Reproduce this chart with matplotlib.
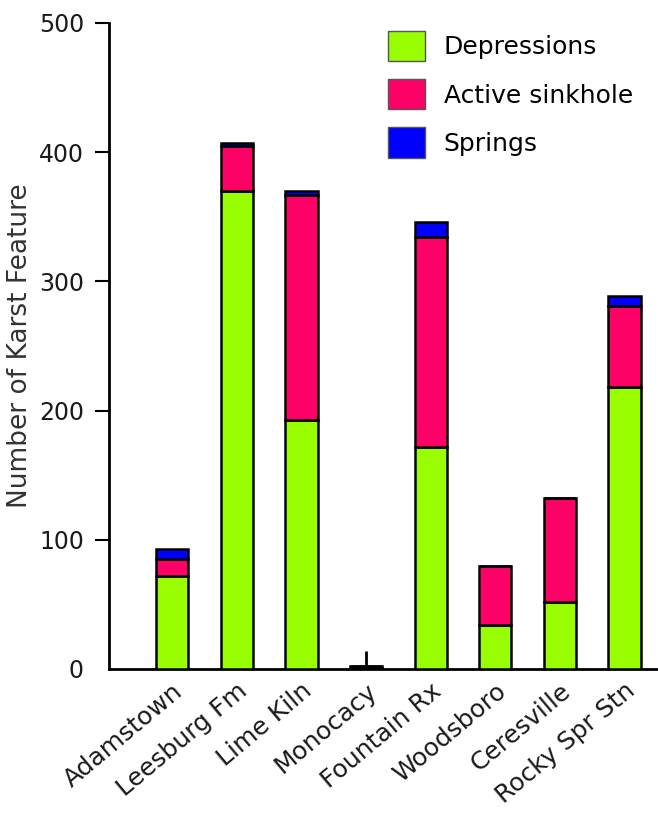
import matplotlib
matplotlib.use("Agg")
import matplotlib.pyplot as plt
import numpy as np
from matplotlib.patches import Patch

plt.rcParams['font.family'] = ['DejaVu Sans']

categories = ["Adamstown", "Leesburg Fm", "Lime Kiln", "Monocacy", "Fountain Rx",
              "Woodsboro", "Ceresville", "Rocky Spr Stn"]
depressions = [72, 370, 193, 1, 172, 34, 52, 218]
active_sinkhole = [13, 35, 174, 1, 162, 46, 80, 63]
springs = [8, 2, 3, 0, 12, 0, 0, 8]
monocacy_mark = 14
yticks = [0, 100, 200, 300, 400, 500]

fig = plt.figure(figsize=(6.58, 8.15), dpi=100)
ax = fig.add_axes([109/658, 1 - 669/815, 1 - 109/658, (669 - 23)/815])

x = np.arange(len(categories))
w = 0.5
kw = dict(width=w, edgecolor='black', linewidth=1.8, zorder=3)
ax.bar(x, depressions, color='#99FF00', **kw)
ax.bar(x, active_sinkhole, bottom=depressions, color='#FF0066', **kw)
bot2 = np.array(depressions) + np.array(active_sinkhole)
ax.bar(x, springs, bottom=bot2, color='#0000FF', **kw)
ax.vlines(categories.index("Monocacy"), 0, monocacy_mark, color='black', linewidth=2, zorder=4)

ax.set_xlim(-0.98, 7.52)
ax.set_ylim(0, 500)
ax.set_yticks(yticks)
ax.set_yticklabels([str(t) for t in yticks], fontsize=17, color='#1a1a1a')
ax.tick_params(axis='y', direction='out', length=10, width=1.5, pad=8)
ax.yaxis.get_major_ticks()[0].tick1line.set_visible(False)
ax.set_xticks(x)
ax.set_xticklabels(categories, rotation=40, ha='right', rotation_mode='anchor',
                   fontsize=18, color='#1a1a1a')
ax.tick_params(axis='x', length=0, pad=7)
for s in ['top', 'right']:
    ax.spines[s].set_visible(False)
ax.spines['left'].set_linewidth(2)
ax.spines['bottom'].set_linewidth(2)
ax.set_ylabel("Number of Karst Feature", fontsize=19, color='#333333')
ax.yaxis.set_label_coords(-0.138, 0.5)

handles = [Patch(facecolor='#99FF00', edgecolor='#555555'),
           Patch(facecolor='#FF0066', edgecolor='#555555'),
           Patch(facecolor='#0000FF', edgecolor='#555555')]
ax.legend(handles, ["Depressions", "Active sinkhole", "Springs"], loc='upper left',
          bbox_to_anchor=(388 / 658, (815 - 31) / 815), bbox_transform=fig.transFigure,
          frameon=False, fontsize=18, handlelength=1.48, handleheight=1.48,
          labelspacing=0.72, handletextpad=0.75, borderaxespad=0, borderpad=0)

fig.savefig("out.png", dpi=100)
